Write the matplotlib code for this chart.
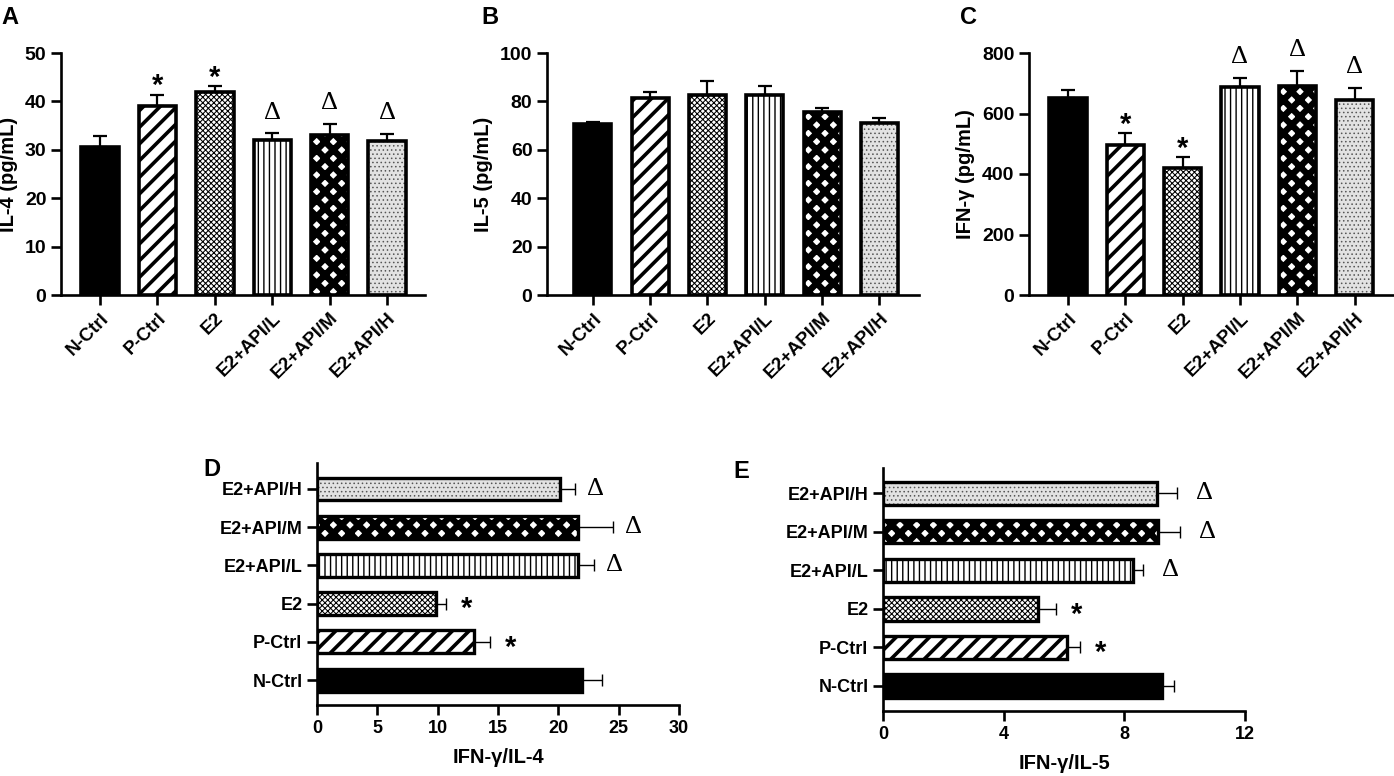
import numpy as np
import matplotlib
matplotlib.use("Agg")
import matplotlib.pyplot as plt

groups = ["N-Ctrl", "P-Ctrl", "E2", "E2+API/L", "E2+API/M", "E2+API/H"]

# panel A: IL-4 (pg/mL), mean and upper error
il4 = [30.5, 39.0, 42.0, 32.0, 33.0, 31.8]
il4_err = [2.4, 2.4, 1.2, 1.4, 2.4, 1.5]
il4_sig = ["", "*", "*", "Δ", "Δ", "Δ"]

# panel B: IL-5 (pg/mL)
il5 = [70.5, 81.5, 82.8, 82.8, 75.8, 71.0]
il5_err = [0.8, 2.3, 5.8, 3.6, 1.4, 2.3]
il5_sig = ["", "", "", "", "", ""]

# panel C: IFN-y (pg/mL)
ifn = [652, 497, 420, 688, 690, 643]
ifn_err = [26, 38, 36, 30, 50, 42]
ifn_sig = ["", "*", "*", "Δ", "Δ", "Δ"]

# panel D: IFN-y / IL-4
ratio4 = [22.0, 13.0, 9.9, 21.6, 21.6, 20.1]
ratio4_err = [1.6, 1.3, 0.8, 1.35, 2.9, 1.25]
ratio4_sig = ["", "*", "*", "Δ", "Δ", "Δ"]

# panel E: IFN-y / IL-5
ratio5 = [9.24, 6.1, 5.14, 8.29, 9.1, 9.07]
ratio5_err = [0.4, 0.42, 0.58, 0.33, 0.74, 0.66]
ratio5_sig = ["", "*", "*", "Δ", "Δ", "Δ"]

# fill styles per group (face, hatch, hatch colour, hatch linewidth)
styles = [
    ("black", None, "black", 1.0),
    ("white", "//", "black", 2.6),
    ("white", "xxxxxx", "black", 0.75),
    ("white", "|||", "black", 1.0),
    ("white", "xx", "black", 4.6),
    ("#e2e2e2", "....", "#555555", 0.6),
]

W, H = 1394, 776
plt.rcParams["font.family"] = ["Liberation Sans", "DejaVu Sans"]
plt.rcParams["font.weight"] = "bold"
plt.rcParams["axes.linewidth"] = 1.9

fig = plt.figure(figsize=(W / 100, H / 100), dpi=100)


def pix_axes(x0, y0, x1, y1):
    return fig.add_axes([x0 / W, 1 - y1 / H, (x1 - x0) / W, (y1 - y0) / H])


def styled_bars(ax, vals, horizontal=False, size=0.65, edge=2.6):
    pos = np.arange(len(vals))
    for i, v in enumerate(vals):
        face, hatch, hc, hlw = styles[i]
        with plt.rc_context({"hatch.linewidth": hlw}):
            if horizontal:
                b = ax.barh(pos[i], v, height=size, color=face, edgecolor=hc,
                            hatch=hatch, linewidth=0, zorder=2)
            else:
                b = ax.bar(pos[i], v, width=size, color=face, edgecolor=hc,
                           hatch=hatch, linewidth=0, zorder=2)
        for p in b:
            if hasattr(p, "set_hatch_linewidth"):
                p.set_hatch_linewidth(hlw)
    if horizontal:
        ax.barh(pos, vals, height=size, fill=False, edgecolor="black",
                linewidth=edge, zorder=3)
    else:
        ax.bar(pos, vals, width=size, fill=False, edgecolor="black",
               linewidth=edge, zorder=3)
    return pos


def mark(ax, pos, tops, sig, horizontal=False, star_off=11, delta_off=15):
    for p, t, s in zip(pos, tops, sig):
        if not s:
            continue
        if s == "*":
            kw = dict(fontsize=21, fontweight="bold", family=["Liberation Sans"])
            off = star_off
        else:
            kw = dict(fontsize=19, fontweight="normal", family=["Liberation Serif", "DejaVu Serif"])
            off = delta_off
        if horizontal:
            dy = -4 if s == "*" else 0
            ax.annotate(s, xy=(t, p), xytext=(off, dy), textcoords="offset points",
                        ha="center", va="center", **kw)
        else:
            dy = off - (5 if s == "*" else 0)
            ax.annotate(s, xy=(p, t), xytext=(0, dy), textcoords="offset points",
                        ha="center", va="center", **kw)


def vertical_panel(box, vals, errs, sig, ymax, step, ylabel, xlim, letter, letter_xy):
    ax = pix_axes(*box)
    pos = styled_bars(ax, vals)
    ax.errorbar(pos, vals, yerr=[np.zeros(len(vals)), errs], fmt="none",
                ecolor="black", elinewidth=1.6, capsize=5, capthick=1.6, zorder=1)
    tops = np.array(vals) + np.array(errs)
    mark(ax, pos, tops, sig)
    ax.set_ylim(0, ymax)
    ax.set_xlim(*xlim)
    ax.set_yticks(np.arange(0, ymax + 1, step))
    ax.set_xticks(pos)
    ax.set_xticklabels(groups, rotation=45, ha="right", rotation_mode="anchor",
                       fontsize=13.5, fontweight="bold")
    for t in ax.get_yticklabels():
        t.set_fontweight("bold")
    ax.tick_params(width=1.9, length=7)
    ax.tick_params(axis="y", labelsize=14)
    ax.set_ylabel(ylabel, fontsize=14.5, fontweight="bold", labelpad=5)
    ax.spines["top"].set_visible(False)
    ax.spines["right"].set_visible(False)
    fig.text(letter_xy[0] / W, 1 - letter_xy[1] / H, letter, fontsize=17,
             fontweight="bold", va="top", ha="left")
    return ax


def horizontal_panel(box, vals, errs, sig, xmax, step, xlabel, ylim, letter, letter_xy,
                     star_off, delta_off):
    ax = pix_axes(*box)
    pos = styled_bars(ax, vals, horizontal=True, size=0.6, edge=2.4)
    ax.errorbar(vals, pos, xerr=[np.zeros(len(vals)), errs], fmt="none",
                ecolor="black", elinewidth=1.0, capsize=4, capthick=1.0, zorder=1)
    tops = np.array(vals) + np.array(errs)
    mark(ax, pos, tops, sig, horizontal=True, star_off=star_off, delta_off=delta_off)
    ax.set_xlim(0, xmax)
    ax.set_ylim(*ylim)
    ax.set_xticks(np.arange(0, xmax + 0.01, step))
    ax.set_yticks(pos)
    ax.set_yticklabels(groups, fontsize=13, fontweight="bold")
    for t in ax.get_xticklabels():
        t.set_fontweight("bold")
    ax.tick_params(width=1.9, length=7)
    ax.tick_params(axis="x", labelsize=13)
    ax.set_xlabel(xlabel, fontsize=14.5, fontweight="bold", labelpad=8)
    ax.spines["top"].set_visible(False)
    ax.spines["right"].set_visible(False)
    fig.text(letter_xy[0] / W, 1 - letter_xy[1] / H, letter, fontsize=17,
             fontweight="bold", va="top", ha="left")
    return ax


vertical_panel((61, 53, 425, 295), il4, il4_err, il4_sig, 50, 10, "IL-4 (pg/mL)",
               (-0.68, 5.66), "A", (1, 6))
vertical_panel((547, 53, 919, 295), il5, il5_err, il5_sig, 100, 20, "IL-5 (pg/mL)",
               (-0.80, 5.69), "B", (481, 6))
vertical_panel((1029, 53, 1393, 295), ifn, ifn_err, ifn_sig, 800, 200, "IFN-γ (pg/mL)",
               (-0.68, 5.67), "C", (960, 6))

horizontal_panel((317, 463, 679, 705), ratio4, ratio4_err, ratio4_sig, 30, 5, "IFN-γ/IL-4",
                 (-0.65, 5.68), "D", (203, 458), 15, 15)
horizontal_panel((883, 468, 1245, 711), ratio5, ratio5_err, ratio5_sig, 12, 4, "IFN-γ/IL-5",
                 (-0.65, 5.66), "E", (733, 460), 15, 20)

fig.savefig("out.png", dpi=100)
